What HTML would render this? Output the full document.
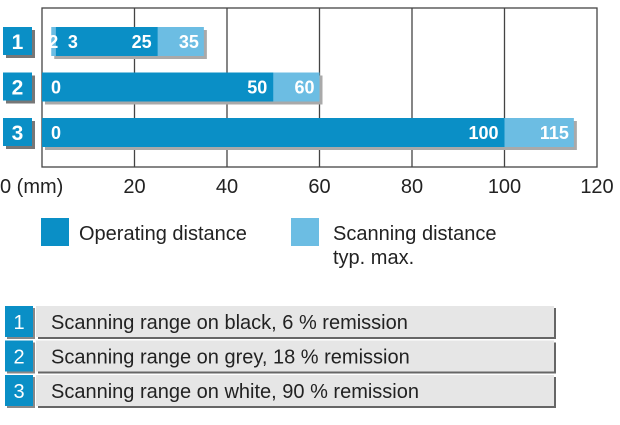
<!DOCTYPE html>
<html><head><meta charset="utf-8"><style>
body{margin:0;background:#fff;width:620px;height:420px;overflow:hidden;font-family:"Liberation Sans",sans-serif}
</style></head><body>
<svg width="620" height="420" font-family="Liberation Sans, sans-serif">
<g id="grid"></g>
<g id="bars"></g>
<g id="axis"></g>
<g>
 <rect x="41" y="218" width="28" height="28" fill="#0a8fc6"/>
 <text x="79" y="240" font-size="20" fill="#222">Operating distance</text>
 <rect x="291" y="218" width="28" height="28" fill="#6cbde3"/>
 <text x="333" y="240" font-size="20" fill="#222">Scanning distance</text>
 <text x="333" y="264" font-size="20" fill="#222">typ. max.</text>
</g>
<g id="table"></g>
</svg>
<script>
const categories=["1","2","3"];
const scanMin=[2,0,0];
const opMin=[3,0,0];
const opMax=[25,50,100];
const scanMax=[35,60,115];
const ticks=[0,20,40,60,80,100,120];
const tickLabels=["0 (mm)","20","40","60","80","100","120"];
const descriptions=["Scanning range on black, 6 % remission","Scanning range on grey, 18 % remission","Scanning range on white, 90 % remission"];
const NS="http://www.w3.org/2000/svg";
const X0=42,X1=597,Y0=8,Y1=167;
const x=v=>X0+(v-0)/(120-0)*(X1-X0);
const rowY=i=>27+i*45.5;
const BH=29;
function mk(tag,attrs,parent){const e=document.createElementNS(NS,tag);for(const k in attrs)e.setAttribute(k,attrs[k]);parent.appendChild(e);return e;}
const grid=document.getElementById('grid'),bars=document.getElementById('bars'),axis=document.getElementById('axis'),table=document.getElementById('table');
ticks.forEach((t,i)=>{
 if(i>0&&i<ticks.length-1){const l=mk('line',{x1:x(t),x2:x(t),y1:Y0,y2:Y1,stroke:'#444','stroke-width':1.3},grid);
 
 }
 const tx=mk('text',{x:i==0?x(t)-42:x(t),y:193,'font-size':20,fill:'#222','text-anchor':i==0?'start':'middle'},axis);
 tx.textContent=tickLabels[i];
 
 
});
const fr=mk('rect',{x:X0,y:Y0,width:X1-X0,height:Y1-Y0,fill:'none',stroke:'#444','stroke-width':1.3},grid);


categories.forEach((c,i)=>{
 const y=rowY(i);
 const g=mk('g',{},bars);
 
 
 mk('rect',{x:x(scanMin[i])+3,y:y+3,width:x(scanMax[i])-x(scanMin[i]),height:BH,fill:'#a9a9a9'},g);
 const s=mk('rect',{x:x(scanMin[i]),y:y,width:x(scanMax[i])-x(scanMin[i]),height:BH,fill:'#6cbde3'},g);
 
 
 const o=mk('rect',{x:x(opMin[i]),y:y,width:x(opMax[i])-x(opMin[i]),height:BH,fill:'#0a8fc6'},g);
 
 
 const lab=(v,px,anchor)=>{const t=mk('text',{x:px,y:y+21,'font-size':18,'font-weight':'bold',fill:'#fff','text-anchor':anchor},g);t.textContent=v;
  
  };
 if(scanMin[i]!==opMin[i]){lab(scanMin[i],x(scanMin[i])-3,'start');lab(opMin[i],x(opMin[i])+12,'start');}
 else lab(opMin[i],x(opMin[i])+9,'start');
 lab(opMax[i],x(opMax[i])-6,'end');
 lab(scanMax[i],x(scanMax[i])-5,'end');
 mk('rect',{x:6,y:y+3,width:29,height:28,fill:'#777'},g);
 const b=mk('rect',{x:3,y:y,width:29,height:28,fill:'#0a8fc6'},g);
 
 
 const bt=mk('text',{x:17.5,y:y+22,'font-size':21,'font-weight':'bold',fill:'#fff','text-anchor':'middle'},g);bt.textContent=c;
 
 
});
descriptions.forEach((d,i)=>{
 const y=306+i*34.5;
 const g=mk('g',{},table);
 
 
 mk('rect',{x:7,y:y+2,width:28,height:31,fill:'#888'},g);
 mk('rect',{x:5,y:y,width:28,height:31,fill:'#0a8fc6'},g);
 const n=mk('text',{x:19,y:y+23,'font-size':20,fill:'#fff','text-anchor':'middle'},g);n.textContent=categories[i];
 
 
 mk('rect',{x:38,y:y+2,width:518,height:31,fill:'#666'},g);
 mk('rect',{x:36,y:y,width:518,height:31,fill:'#e6e6e6'},g);
 const t=mk('text',{x:51,y:y+23,'font-size':20,fill:'#222'},g);t.textContent=d;
 
 
});
</script>
</body></html>
